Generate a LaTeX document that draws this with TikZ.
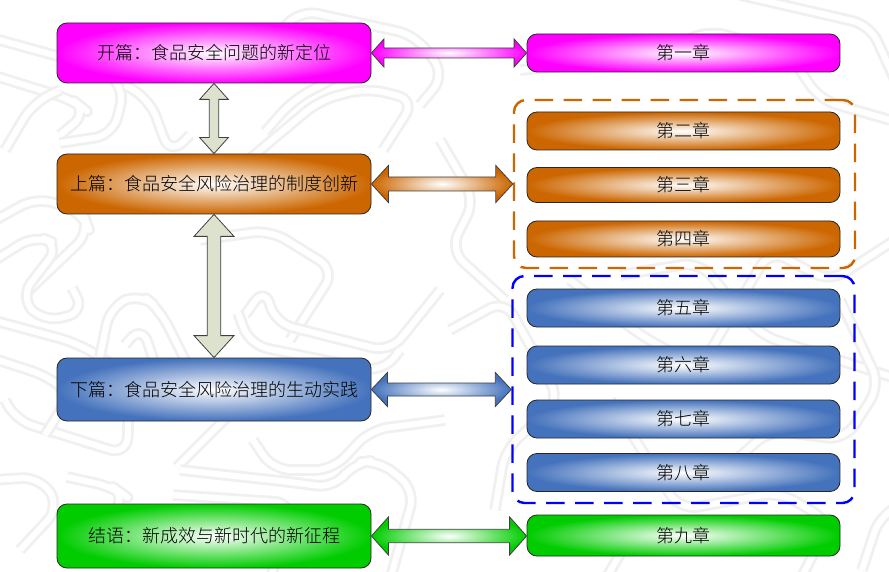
\documentclass[tikz,border=0pt]{standalone}
\usepackage{fontspec}
\newfontfamily\cjk{Noto Sans CJK SC Light}
\usetikzlibrary{calc,shadings}
\definecolor{cmag}{HTML}{FF00FF}
\definecolor{cora}{HTML}{CC6600}
\definecolor{cblu}{HTML}{4472BC}
\definecolor{cgrn}{HTML}{00CC00}
\definecolor{cgry}{HTML}{DDE2CE}
\definecolor{cwm}{HTML}{F0F0F0}
\tikzset{
  x=1pt,y=-1pt,
  every node/.style={font=\cjk\fontsize{18}{20}\selectfont,text=black},
  wm/.style={draw=cwm,line width=2.8pt,double=white,double distance=6pt,rounded corners=18pt,line join=round},
  boxbase/.style={draw=black!85,line width=.8pt,rounded corners=10pt,inner sep=0pt,anchor=center},
  partbox/.style={boxbase,minimum width=314pt},
  chapbox/.style={boxbase,minimum width=313pt},
  magfill/.style={inner color=white,outer color=cmag},
  orafill/.style={inner color=white,outer color=cora},
  blufill/.style={inner color=white,outer color=cblu},
  grnfill/.style={inner color=white,outer color=cgrn},
  arrowline/.style={draw=black!75,line width=.8pt,line join=miter},
  groupbox/.style={line width=2.4pt,dash pattern=on 18.5pt off 10.5pt,rounded corners=12pt,inner sep=0pt},
}
\newcommand{\harrow}[6]{%
  \draw[arrowline,#1] let \p1=(#2),\p2=(#3) in
   (\x1,\y1) -- (\x1+#4pt,\y1+#5pt) -- (\x1+#4pt,\y1+#6pt) -- (\x2-#4pt,\y1+#6pt) -- (\x2-#4pt,\y1+#5pt)
   -- (\x2,\y1) -- (\x2-#4pt,\y1-#5pt) -- (\x2-#4pt,\y1-#6pt) -- (\x1+#4pt,\y1-#6pt) -- (\x1+#4pt,\y1-#5pt) -- cycle;}
\newcommand{\varrow}[5]{%
  \draw[arrowline,fill=cgry] let \p1=(#1),\p2=(#2) in
   (\x1,\y1) -- (\x1+#4pt,\y1-#3pt) -- (\x1+#5pt,\y1-#3pt) -- (\x1+#5pt,\y2+#3pt) -- (\x1+#4pt,\y2+#3pt)
   -- (\x1,\y2) -- (\x1-#4pt,\y2+#3pt) -- (\x1-#5pt,\y2+#3pt) -- (\x1-#5pt,\y1-#3pt) -- (\x1-#4pt,\y1-#3pt) -- cycle;}
\begin{document}
\begin{tikzpicture}
\useasboundingbox (0,0) rectangle (889,572);
\fill[white] (0,0) rectangle (889,572);
\begin{scope}
\clip (0,0) rectangle (889,572);
% watermark
\draw[wm] (-8,38)--(97,67)--(125,87)--(113,135)--(60,143);
\draw[wm] (-8,75)--(73,100)--(88,112)--(60,135);
\draw[wm] (5,150)--(33,103)--(60,90);
\draw[wm] (125,85)--(150,100)--(170,155)--(190,135);
\draw[wm] (240,167)--(320,100)--(367,88)--(415,100)--(383,150);
\draw[wm] (265,132)--(293,100)--(340,75);
\draw[wm] (250,65)--(300,10)--(415,35)--(445,75)--(420,105);
\draw[wm] (-8,222)--(37,197)--(83,213)--(90,232)--(27,292);
\draw[wm] (-8,262)--(35,235)--(60,245)--(20,297)--(43,322)--(85,312)--(72,288);
\draw[wm] (-8,320)--(77,343)--(130,375)--(127,455)--(15,420)--(5,400);
\draw[wm] (-8,358)--(50,377)--(70,395)--(45,435);
\draw[wm] (100,357)--(110,307)--(140,293)--(160,310)--(185,360);
\draw[wm] (125,345)--(142,325)--(165,395);
\draw[wm] (200,240)--(270,230)--(335,270)--(290,340);
\draw[wm] (245,315)--(265,287)--(275,323)--(390,352)--(440,290);
\draw[wm] (238,313)--(250,345)--(383,372)--(400,350);
\draw[wm] (177,467)--(247,397)--(270,380)--(300,375);
\draw[wm] (180,470)--(290,482)--(335,488)--(353,463)--(378,460)--(415,490)--(390,580);
\draw[wm] (253,440)--(273,470)--(333,470)--(370,430)--(445,420);
\draw[wm] (173,495)--(293,503)--(270,580);
\draw[wm] (-8,480)--(40,477)--(60,507)--(20,550);
\draw[wm] (67,477)--(113,487)--(127,497)--(93,535);
\draw[wm] (440,140)--(475,200)--(450,250)--(505,300);
\draw[wm] (450,330)--(505,300)--(560,400)--(505,450)--(495,510);
\draw[wm] (520,70)--(640,60)--(710,30)--(790,55)--(820,100)--(890,120);
\draw[wm] (740,-5)--(870,25)--(895,80);
\draw[wm] (620,275)--(700,262)--(760,335)--(895,378);
\draw[wm] (570,280)--(640,335)--(700,368)--(770,250)--(830,282)--(895,240);
\draw[wm] (840,300)--(880,385)--(845,440)--(770,430)--(730,465);
\draw[wm] (610,400)--(680,510)--(780,492)--(830,522)--(800,580);
\draw[wm] (640,520)--(605,580);
\draw[wm] (862,570)--(880,515)--(895,508);
\end{scope}
% dashed groups
\node[groupbox,draw=cora,minimum width=341pt,minimum height=168pt] (grpA) at (684.5,184) {};
\node[groupbox,draw=blue,minimum width=342pt,minimum height=227pt] (grpB) at (683.5,389.5) {};
% parts
\node[partbox,magfill,minimum height=60pt] (p1) at (214,53) {开篇：食品安全问题的新定位};
\node[partbox,orafill,minimum height=60pt] (p2) at (214,184) {上篇：食品安全风险治理的制度创新};
\node[partbox,blufill,minimum height=63pt] (p3) at (214,389.5) {下篇：食品安全风险治理的生动实践};
\node[partbox,grnfill,minimum height=64pt] (p4) at (214,536) {结语：新成效与新时代的新征程};
% chapters
\node[chapbox,magfill,minimum height=38pt] (c1) at (683.5,53) {第一章};
\node[chapbox,orafill,minimum height=38pt] (c2) at (683.5,131) {第二章};
\node[chapbox,orafill,minimum height=35pt] (c3) at (683.5,185) {第三章};
\node[chapbox,orafill,minimum height=36pt] (c4) at (683.5,239) {第四章};
\node[chapbox,blufill,minimum height=38pt] (c5) at (683.5,308) {第五章};
\node[chapbox,blufill,minimum height=38pt] (c6) at (683.5,365) {第六章};
\node[chapbox,blufill,minimum height=38pt] (c7) at (683.5,419) {第七章};
\node[chapbox,blufill,minimum height=38pt] (c8) at (683.5,472.5) {第八章};
\node[chapbox,grnfill,minimum height=41pt] (c9) at (683.5,535.5) {第九章};
% arrows
\harrow{magfill}{p1.east}{c1.west}{12.5}{14}{5}
\harrow{orafill}{p2.east}{grpA.west}{17}{18.5}{7}
\harrow{blufill}{p3.east}{grpB.west}{16}{17}{6.5}
\harrow{grnfill}{p4.east}{c9.west}{17}{19}{6.7}
\varrow{p1.south}{p2.north}{16}{14.3}{4.7}
\varrow{p2.south}{p3.north}{22}{20}{6.8}
\end{tikzpicture}
\end{document}
